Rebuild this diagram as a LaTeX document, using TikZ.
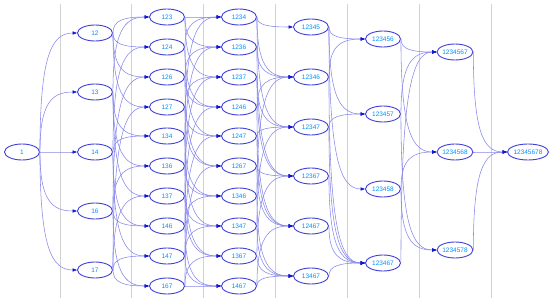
\documentclass[tikz,border=0pt]{standalone}
\usepackage{fontspec}
\setmainfont{Liberation Sans}
\usetikzlibrary{shapes.geometric,arrows.meta,calc}
\definecolor{edgecol}{RGB}{135,135,235}
\definecolor{arrowcol}{RGB}{20,20,210}
\definecolor{nodeborder}{RGB}{65,65,215}
\definecolor{textcol}{RGB}{0,145,255}
\definecolor{sepcol}{RGB}{210,210,210}
\tikzset{
  setnode/.style={ellipse,draw=nodeborder,line width=0.9pt,minimum width=35pt,minimum height=16pt,inner sep=0pt,text=textcol,font=\fontsize{6.5}{7}\selectfont,fill=white},
  edge/.style={draw=edgecol,line width=0.55pt,-{Triangle[length=4.5pt,width=3.2pt,color=arrowcol]}},
  sepline/.style={draw=sepcol,line width=0.7pt}
}
\newcommand\edgeE[2]{%
  \path (#1.east |- #2.west) coordinate (cc);
  \draw[edge] (#1.east) .. controls ($(#1.east)!0.8!(cc)$) and ($(cc)!0.3!(#2.west)$) .. (#2.west);}
\begin{document}
\begin{tikzpicture}[x=1pt,y=-1pt]
\useasboundingbox (0,0) rectangle (550,302);
\foreach \x/\i in {60/a,131/b,203/c,275/d,347/e,419/f,491/g}
  \draw[sepline] (\x,4) coordinate (s\i) -- (\x,298) coordinate (t\i);
% column 0
\node[setnode] (n1) at (22,152) {1};
% column 1
\foreach \l/\y in {12/33,13/92,14/152,16/211,17/270}
  \node[setnode] (n\l) at (95,\y) {\l};
% column 2
\foreach \l/\y in {123/17,124/47,126/77,127/107,134/136,136/166,137/196,146/226,147/256,167/286}
  \node[setnode] (n\l) at (167,\y) {\l};
% column 3
\foreach \l/\y in {1234/17,1236/47,1237/77,1246/107,1247/136,1267/166,1346/196,1347/226,1367/256,1467/286}
  \node[setnode] (n\l) at (239,\y) {\l};
% column 4
\foreach \l/\y in {12345/27,12346/77,12347/127,12367/176,12467/226,13467/276}
  \node[setnode] (n\l) at (311,\y) {\l};
% column 5
\foreach \l/\y in {123456/39,123457/114,123458/189,123467/263}
  \node[setnode] (n\l) at (383,\y) {\l};
% column 6
\foreach \l/\y in {1234567/52,1234568/152,1234578/250}
  \node[setnode] (n\l) at (455,\y) {\l};
% column 7
\node[setnode] (n12345678) at (528,152) {12345678};
% edges
\foreach \a/\b in {1/12,1/13,1/14,1/16,1/17,
  12/123,12/124,12/126,12/127,13/123,13/134,13/136,13/137,
  14/124,14/134,14/146,14/147,16/126,16/136,16/146,16/167,
  17/127,17/137,17/147,17/167,
  123/1234,123/1236,123/1237,124/1234,124/1246,124/1247,
  126/1236,126/1246,126/1267,127/1237,127/1247,127/1267,
  134/1234,134/1346,134/1347,136/1236,136/1346,136/1367,
  137/1237,137/1347,137/1367,146/1246,146/1346,146/1467,
  147/1247,147/1347,147/1467,167/1267,167/1367,167/1467,
  1234/12345,1234/12346,1234/12347,1236/12346,1236/12367,
  1237/12347,1237/12367,1246/12346,1246/12467,1247/12347,1247/12467,
  1267/12367,1267/12467,1346/12346,1346/13467,1347/12347,1347/13467,
  1367/12367,1367/13467,1467/12467,1467/13467,
  12345/123456,12345/123457,12345/123458,12346/123456,12346/123467,
  12347/123457,12347/123467,12367/123467,12467/123467,13467/123467,
  123456/1234567,123456/1234568,123457/1234567,123457/1234578,
  123458/1234568,123458/1234578,123467/1234567,
  1234567/12345678,1234568/12345678,1234578/12345678}
  {\edgeE{n\a}{n\b}}
\end{tikzpicture}
\end{document}
